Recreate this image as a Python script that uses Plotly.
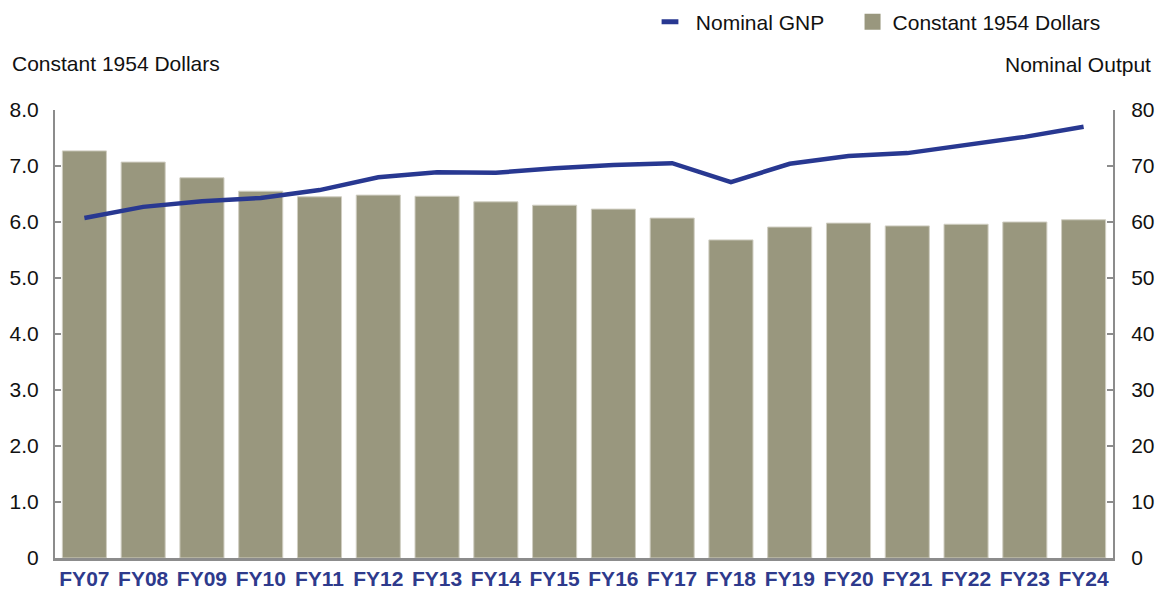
import plotly.graph_objects as go

years = ["FY07", "FY08", "FY09", "FY10", "FY11", "FY12", "FY13", "FY14", "FY15",
         "FY16", "FY17", "FY18", "FY19", "FY20", "FY21", "FY22", "FY23", "FY24"]
constant_1954 = [7.27, 7.07, 6.79, 6.55, 6.45, 6.48, 6.46, 6.36, 6.30,
                 6.23, 6.07, 5.68, 5.91, 5.98, 5.93, 5.96, 6.00, 6.04]
nominal_gnp = [60.7, 62.7, 63.7, 64.3, 65.7, 68.0, 68.9, 68.8, 69.6,
               70.2, 70.5, 67.1, 70.4, 71.8, 72.3, 73.8, 75.2, 77.0]

left_ticks = [0, 1, 2, 3, 4, 5, 6, 7, 8]
left_labels = ["0", "1.0", "2.0", "3.0", "4.0", "5.0", "6.0", "7.0", "8.0"]
right_ticks = [0, 10, 20, 30, 40, 50, 60, 70, 80]

BAR = "#99977E"
LINE = "#283891"
AXIS = "#8C8C8C"
FONT = "Liberation Sans, Arial, sans-serif"
# the page body keeps its default 8px margin, so the figure is 8px smaller
W, H = 1156, 581
PW, PH = 1058, 448

fig = go.Figure()
fig.add_trace(go.Bar(
    x=years, y=constant_1954, name="Constant 1954 Dollars", showlegend=False,
    marker=dict(color=BAR, line=dict(color="#D0CEC2", width=1)),
    yaxis="y",
))
fig.add_trace(go.Scatter(
    x=years, y=nominal_gnp, name="Nominal GNP", mode="lines", showlegend=False,
    line=dict(color=LINE, width=4.5),
    yaxis="y2",
))
# legend-only entries with the short dash / square symbols of the original
fig.add_trace(go.Scatter(
    x=[None], y=[None], name="\u00a0Nominal GNP\u00a0\u00a0\u00a0\u00a0", mode="markers",
    marker=dict(symbol="line-ew", size=12, line=dict(color=LINE, width=5)),
))
fig.add_trace(go.Scatter(
    x=[None], y=[None], name="Constant 1954 Dollars", mode="markers",
    marker=dict(symbol="square", size=16, color=BAR),
))

fig.update_layout(
    width=W, height=H,
    margin=dict(l=47, r=51, t=102, b=31, autoexpand=False),
    plot_bgcolor="white", paper_bgcolor="white",
    font=dict(family=FONT, size=21, color="#111111"),
    bargap=0.25,
    showlegend=True,
    legend=dict(orientation="h", xref="container", yref="container",
                x=1098 / W, xanchor="right", y=1 - 14 / H, yanchor="middle",
                font=dict(size=21), itemwidth=30, bgcolor="rgba(0,0,0,0)"),
    xaxis=dict(
        range=[-0.5, 17.5], showline=True, linecolor=AXIS, linewidth=3,
        ticks="", showgrid=False, automargin=False,
        tickfont=dict(family=FONT, size=21, color="#2E3A8C", weight="bold"),
    ),
    yaxis=dict(
        range=[0, 8], tickvals=left_ticks, ticktext=left_labels,
        showline=True, linecolor=AXIS, linewidth=2, ticks="inside",
        tickcolor=AXIS, ticklen=6, tickwidth=2, showgrid=False, zeroline=False,
        ticklabelstandoff=10, automargin=False,
    ),
    yaxis2=dict(
        range=[0, 80], tickvals=right_ticks, overlaying="y", side="right",
        showline=True, linecolor=AXIS, linewidth=2, ticks="inside",
        tickcolor=AXIS, ticklen=6, tickwidth=2, showgrid=False, zeroline=False,
        ticklabelstandoff=12, automargin=False,
    ),
    annotations=[
        dict(text="Constant 1954 Dollars", xref="paper", yref="paper",
             x=-45 / PW, y=1 + 47 / PH, xanchor="left", yanchor="middle",
             showarrow=False, font=dict(size=21)),
        dict(text="Nominal Output", xref="paper", yref="paper",
             x=1 + 40 / PW, y=1 + 45 / PH, xanchor="right", yanchor="middle",
             showarrow=False, font=dict(size=21)),
    ],
)

fig.write_html("out.html")
